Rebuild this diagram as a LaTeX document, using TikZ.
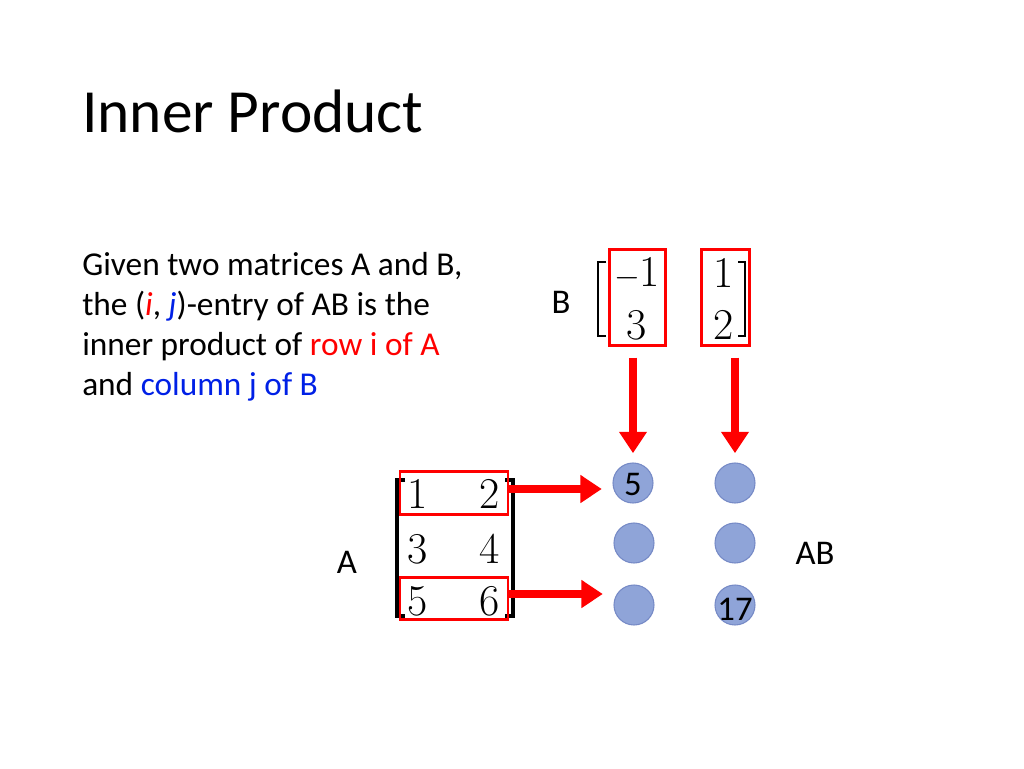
\documentclass[tikz,border=0pt]{standalone}
\usepackage{fontspec}
\setmainfont{Carlito}
\usetikzlibrary{arrows.meta}
\definecolor{cfill}{RGB}{143,164,216}
\definecolor{cdraw}{RGB}{118,138,198}
\definecolor{bblue}{RGB}{0,32,230}
\newfontfamily\mathnum{Latin Modern Roman}
\begin{document}
\begin{tikzpicture}[x=0.75pt,y=-0.75pt,
  ent/.style={font=\mathnum\fontsize{33}{33}\selectfont,inner sep=0pt},
  lab/.style={font=\fontsize{26}{26}\selectfont,inner sep=0pt},
  rbox/.style={draw=red,line width=2.2pt,inner sep=0pt},
  dot/.style={circle,minimum size=30pt,inner sep=0pt,fill=cfill,draw=cdraw,line width=0.8pt},
  bigarrow/.style={draw=red,line width=6pt,-{Triangle[width=20pt,length=16pt]}},
  brk/.style={line width=2pt}]
\useasboundingbox (0,0) rectangle (1024,768);
\node[anchor=base west,inner sep=0pt,font=\fontsize{46}{46}\selectfont] (title) at (82,132) {Inner Product};
\node[anchor=north west,inner sep=0pt,align=left,font=\fontsize{25}{30}\selectfont] (txt) at (82,252)
 {Given two matrices A and B,\\ the (\textcolor{red}{\itshape i}, \textcolor{bblue}{\itshape j})-entry of AB is the\\ inner product of \textcolor{red}{row i of A}\\ and \textcolor{bblue}{column j of B}};
% B matrix
\node[lab] (B) at (561,302) {B};
\node[ent] (b11) at (637,273) {$-$1};
\node[ent] (b21) at (637,325) {3};
\node[ent] (b12) at (724,273) {1};
\node[ent] (b22) at (724,325) {2};
\draw[brk] (606,262) -- (598,262) -- (598,336) -- (606,336);
\draw[brk] (738,262) -- (745,262) -- (745,336) -- (738,336);
\node[rbox,minimum width=42pt,minimum height=72pt] (bc1) at (637.5,297.5) {};
\node[rbox,minimum width=36pt,minimum height=72pt] (bc2) at (725.5,297.5) {};
% A matrix
\node[lab] (A) at (347,562) {A};
\node[ent] (a11) at (418,494) {1};
\node[ent] (a12) at (490,494) {2};
\node[ent] (a21) at (418,549) {3};
\node[ent] (a22) at (490,549) {4};
\node[ent] (a31) at (418,601) {5};
\node[ent] (a32) at (490,601) {6};
\draw[brk,line width=3pt] (405,480) -- (397,480) -- (397,616) -- (405,616);
\draw[brk,line width=3pt] (505,480) -- (513,480) -- (513,616) -- (505,616);
\node[rbox,minimum width=81pt,minimum height=32pt] (ar1) at (454,493) {};
\node[rbox,minimum width=81pt,minimum height=31pt] (ar3) at (454,598.5) {};
% AB circles
\node[dot] (c11) at (633,483) {};
\node[dot] (c12) at (735,483) {};
\node[dot] (c21) at (634,543) {};
\node[dot] (c22) at (735,543) {};
\node[dot] (c31) at (634,605) {};
\node[dot] (c32) at (735,605) {};
\node[lab,anchor=center] (v5) at (633,484) {5};
\node[lab,anchor=center] (v17) at (735,609) {17};
\node[lab] (AB) at (815,553) {AB};
% arrows
\draw[bigarrow,shorten <=8pt,shorten >=7pt] (bc1.south -| c11) -- (c11.north);
\draw[bigarrow,shorten <=8pt,shorten >=7pt] (bc2.south -| c12) -- (c12.north);
\draw[bigarrow,shorten <=0pt,shorten >=8pt] (ar1.east |- 0,489) -- (c11.west |- 0,489);
\draw[bigarrow,shorten <=0pt,shorten >=8pt] (ar3.east |- 0,594) -- (c31.west |- 0,594);
\end{tikzpicture}
\end{document}
